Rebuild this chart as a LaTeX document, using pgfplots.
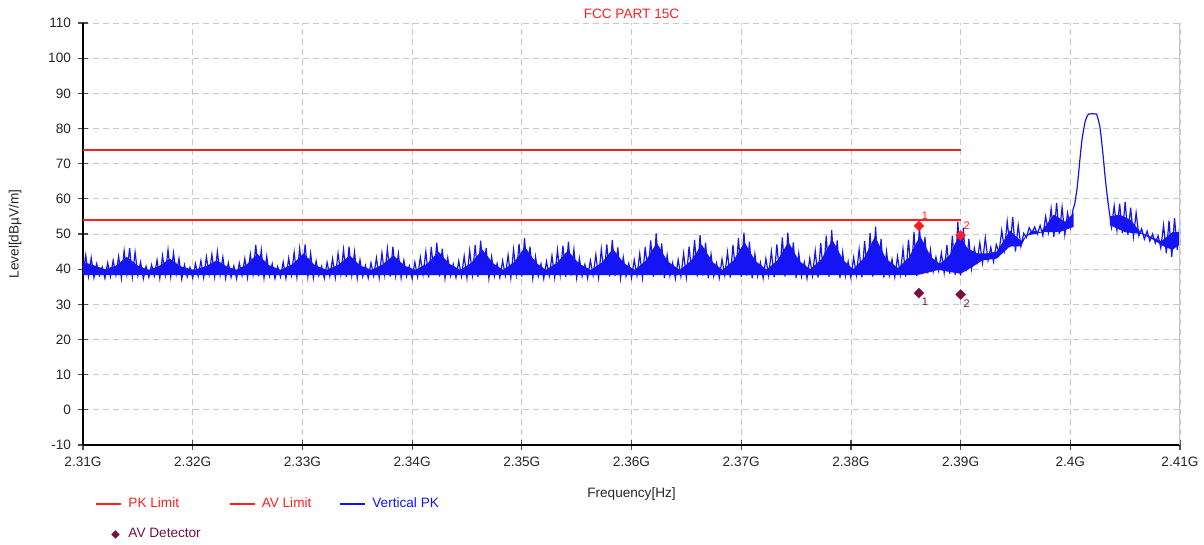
\documentclass[border=0pt]{standalone}
\usepackage{pgfplots}
\pgfplotsset{compat=1.18}
\usepackage{fontspec}
\setmainfont{Liberation Sans}

\definecolor{limred}{RGB}{255,30,30}
\definecolor{trace}{RGB}{20,20,245}
\definecolor{avdet}{RGB}{122,16,66}
\definecolor{gridgray}{RGB}{200,200,200}
\newcommand{\chartfont}{\fontsize{6.8}{8}\selectfont}

\begin{document}
\begin{tikzpicture}
\begin{axis}[
    name=ax,
    scale only axis,
    width=548.5pt, height=211pt,
    xmin=2310, xmax=2410,
    ymin=-10, ymax=110,
    xtick={2310,2320,2330,2340,2350,2360,2370,2380,2390,2400,2410},
    xticklabels={2.31G,2.32G,2.33G,2.34G,2.35G,2.36G,2.37G,2.38G,2.39G,2.4G,2.41G},
    ytick={-10,0,10,20,30,40,50,60,70,80,90,100,110},
    /pgf/number format/assume math mode=true,
    grid=major,
    grid style={densely dashed, gridgray, line width=0.4pt},
    axis x line*=bottom, axis y line*=left,
    axis line style={-, black, line width=0.6pt},
    tick align=center, major tick length=5pt,
    tick style={black!70, line width=0.6pt},
    ticklabel style={font=\chartfont, text=black!85},
    xlabel={Frequency[Hz]},
    ylabel={Level[dBµV/m]},
    label style={font=\chartfont, text=black!85},
    xlabel style={yshift=-3.5pt},
    ylabel style={yshift=6.5pt},
    title={FCC PART 15C},
    title style={font=\chartfont, text=limred, anchor=center, yshift=-1.5pt, inner sep=0pt},
    legend columns=3,
    legend cell align=left,
    legend style={at={(rel axis cs:0.011,0)}, anchor=north west, yshift=-24pt,
        draw=none, fill=none, font=\chartfont, inner sep=0pt, row sep=5pt,
        /tikz/every odd column/.append style={column sep=1pt},
        /tikz/every even column/.append style={column sep=12pt}},
    legend image code/.code={\draw[#1, mark=none, line width=1pt] (0pt,0pt) -- (12.5pt,0pt);},
]

\addplot[limred, line width=1pt] coordinates {(2310,74) (2390,74)};
\addlegendentry{\textcolor{limred}{PK Limit}}

\addplot[limred, line width=1pt] coordinates {(2310,54) (2390,54)};
\addlegendentry{\textcolor{limred}{AV Limit}}

% solid core of the noise band
\addplot[fill=trace, draw=none, forget plot] coordinates {
(2310,42.0) (2310.6,41.5) (2312.0,40.0) (2313.0,41.0) (2314.0,43.5) (2315.0,41.0) (2316.0,39.8) (2317.0,41.0) (2317.9,43.0) (2318.9,40.8)
(2320.1,39.8) (2321.2,40.8) (2322.2,42.5) (2323.2,40.6) (2324.0,39.8) (2324.9,41.3) (2325.9,44.4) (2326.9,41.2) (2328.0,39.8) (2329.1,41.4)
(2330.1,44.5) (2331.1,41.2) (2332.2,39.8) (2333.3,41.3) (2334.3,43.9) (2335.3,41.0) (2336.3,39.8) (2337.3,41.3) (2338.3,43.9) (2339.3,41.0)
(2340.3,39.8) (2341.4,41.6) (2342.4,45.0) (2343.4,41.5) (2344.4,39.8) (2345.4,41.8) (2346.4,45.6) (2347.4,41.6) (2348.3,39.8) (2349.3,42.0)
(2350.3,46.3) (2351.3,41.8) (2352.2,39.8) (2353.2,41.8) (2354.2,45.3) (2355.2,41.6) (2356.3,39.8) (2357.3,41.9) (2358.3,45.8) (2359.3,41.7)
(2360.3,39.8) (2361.3,42.4) (2362.3,47.5) (2363.3,42.2) (2364.4,39.8) (2365.4,42.3) (2366.4,47.0) (2367.4,42.0) (2368.3,39.8) (2369.3,42.5)
(2370.3,47.7) (2371.3,42.3) (2372.3,39.9) (2373.3,42.5) (2374.3,47.7) (2375.3,42.3) (2376.3,40.0) (2377.3,42.8) (2378.3,48.4) (2379.3,42.6)
(2380.2,40.0) (2381.2,43.2) (2382.2,49.3) (2383.2,43.0) (2384.3,40.3) (2385.3,43.4) (2386.3,49.5) (2387.3,43.5) (2388.1,41.5) (2389.0,44.0)
(2389.9,50.0) (2390.6,46.0) (2391.5,44.5) (2392.5,44.5) (2393.3,45.0) (2394.5,51.0) (2395.5,48.0) (2396.5,51.0) (2397.3,50.5) (2398.5,55.5)
(2399.5,53.5) (2400.3,56.0)
(2400.3,52.0) (2399.0,50.5) (2397.5,50.5) (2396.0,49.5) (2395.5,46.5) (2394.5,46.5) (2393.3,43.0) (2392.0,42.5) (2391.0,40.5) (2390.0,38.7)
(2389.0,39.2) (2388.0,39.8) (2387.0,39.0) (2386.0,38.3) (2310,38.3)
} -- cycle;
\addplot[fill=trace, draw=none, forget plot] coordinates {
(2403.6,55.0) (2404.5,55.5) (2405.5,54.0) (2406.4,50.5) (2407.5,49.0) (2408.3,48.0) (2409.3,50.5) (2410,50.5)
(2410,47.0) (2409.3,45.5) (2408.5,46.5) (2407.5,48.5) (2406.5,50.0) (2405.0,50.5) (2403.6,52.5)
} -- cycle;

\addplot[trace, line width=0.6pt] coordinates {
(2310.00,38.5) (2310.25,44.0) (2310.50,38.0) (2310.75,43.2) (2311.00,37.6) (2311.25,41.5) (2311.50,38.2) (2311.75,40.6) (2312.00,37.4) (2312.25,41.8)
(2312.50,37.9) (2312.75,42.5) (2313.00,38.3) (2313.25,43.6) (2313.50,37.5) (2313.75,45.2) (2314.00,38.6) (2314.25,46.0) (2314.50,37.8) (2314.75,44.8)
(2315.00,38.2) (2315.25,42.0) (2315.50,37.3) (2315.75,40.8) (2316.00,37.7) (2316.25,41.2)
(2316.50,38.1) (2316.75,42.6) (2317.00,37.4) (2317.25,43.8) (2317.50,38.4) (2317.75,45.5) (2318.00,37.9) (2318.25,44.6) (2318.50,38.6) (2318.75,43.0)
(2319.00,37.2) (2319.25,41.2) (2319.50,37.8) (2319.75,40.5) (2320.00,37.5) (2320.25,41.6)
(2320.50,38.0) (2320.75,42.4) (2321.00,37.6) (2321.25,43.5) (2321.50,38.5) (2321.75,44.2) (2322.00,37.9) (2322.25,45.0) (2322.50,38.3) (2322.75,43.4)
(2323.00,37.4) (2323.25,41.8) (2323.50,37.7) (2323.75,40.9) (2324.00,37.3) (2324.25,41.7)
(2324.50,38.2) (2324.75,43.0) (2325.00,37.6) (2325.25,44.3) (2325.50,38.6) (2325.75,46.9) (2326.00,38.0) (2326.25,45.4) (2326.50,37.5) (2326.75,43.6)
(2327.00,38.1) (2327.25,41.5) (2327.50,37.3) (2327.75,40.7) (2328.00,37.8) (2328.25,42.0)
(2328.50,37.4) (2328.75,43.1) (2329.00,38.4) (2329.25,44.8) (2329.50,37.7) (2329.75,45.9) (2330.00,38.6) (2330.25,47.0) (2330.50,37.9) (2330.75,44.5)
(2331.00,37.5) (2331.25,42.3) (2331.50,38.2) (2331.75,40.8) (2332.00,37.4) (2332.25,41.9)
(2332.50,38.0) (2332.75,43.0) (2333.00,37.6) (2333.25,44.5) (2333.50,38.5) (2333.75,45.6) (2334.00,37.8) (2334.25,46.4) (2334.50,38.3) (2334.75,44.9)
(2335.00,37.4) (2335.25,42.6) (2335.50,37.9) (2335.75,41.0) (2336.00,37.5) (2336.25,41.8)
(2336.50,38.1) (2336.75,43.2) (2337.00,37.6) (2337.25,44.6) (2337.50,38.4) (2337.75,45.8) (2338.00,37.9) (2338.25,46.4) (2338.50,38.2) (2338.75,44.4)
(2339.00,37.5) (2339.25,42.5) (2339.50,38.0) (2339.75,40.9) (2340.00,37.3) (2340.25,42.0)
(2340.50,37.8) (2340.75,43.4) (2341.00,38.5) (2341.25,45.0) (2341.50,37.6) (2341.75,46.3) (2342.00,38.3) (2342.25,47.5) (2342.50,37.9) (2342.75,45.8)
(2343.00,37.4) (2343.25,43.2) (2343.50,38.1) (2343.75,41.4) (2344.00,37.6) (2344.25,42.3)
(2344.50,38.0) (2344.75,43.7) (2345.00,37.5) (2345.25,45.3) (2345.50,38.4) (2345.75,46.8) (2346.00,37.8) (2346.25,48.1) (2346.50,38.5) (2346.75,46.0)
(2347.00,37.4) (2347.25,43.5) (2347.50,38.0) (2347.75,41.6) (2348.00,37.6) (2348.25,42.4)
(2348.50,38.2) (2348.75,44.0) (2349.00,37.5) (2349.25,45.6) (2349.50,38.6) (2349.75,47.2) (2350.00,37.9) (2350.25,48.8) (2350.50,38.3) (2350.75,46.4)
(2351.00,37.4) (2351.25,43.6) (2351.50,38.0) (2351.75,41.5) (2352.00,37.3) (2352.25,42.2)
(2352.50,38.1) (2352.75,43.8) (2353.00,37.6) (2353.25,45.5) (2353.50,38.4) (2353.75,46.7) (2354.00,37.8) (2354.25,47.8) (2354.50,38.2) (2354.75,45.6)
(2355.00,37.5) (2355.25,43.1) (2355.50,38.0) (2355.75,41.3) (2356.00,37.4) (2356.25,42.5)
(2356.50,38.3) (2356.75,44.1) (2357.00,37.6) (2357.25,45.7) (2357.50,38.5) (2357.75,47.0) (2358.00,37.9) (2358.25,48.3) (2358.50,38.1) (2358.75,46.2)
(2359.00,37.4) (2359.25,43.4) (2359.50,38.0) (2359.75,41.6) (2360.00,37.5) (2360.25,42.6)
(2360.50,38.2) (2360.75,44.4) (2361.00,37.6) (2361.25,46.3) (2361.50,38.6) (2361.75,48.2) (2362.00,37.8) (2362.25,50.2) (2362.50,38.4) (2362.75,47.3)
(2363.00,37.5) (2363.25,44.0) (2363.50,38.1) (2363.75,41.8) (2364.00,37.3) (2364.25,42.7)
(2364.50,38.0) (2364.75,44.5) (2365.00,37.7) (2365.25,46.4) (2365.50,38.5) (2365.75,48.3) (2366.00,37.9) (2366.25,49.7) (2366.50,38.2) (2366.75,47.5)
(2367.00,37.4) (2367.25,44.2) (2367.50,38.0) (2367.75,41.7) (2368.00,37.5) (2368.25,42.8)
(2368.50,38.3) (2368.75,44.8) (2369.00,37.6) (2369.25,46.9) (2369.50,38.6) (2369.75,48.8) (2370.00,37.8) (2370.25,50.4) (2370.50,38.2) (2370.75,47.8)
(2371.00,37.4) (2371.25,44.3) (2371.50,38.1) (2371.75,41.9) (2372.00,37.5) (2372.25,43.0)
(2372.50,38.2) (2372.75,45.0) (2373.00,37.7) (2373.25,47.0) (2373.50,38.5) (2373.75,49.0) (2374.00,37.9) (2374.25,50.4) (2374.50,38.3) (2374.75,47.6)
(2375.00,37.5) (2375.25,44.5) (2375.50,38.0) (2375.75,42.0) (2376.00,37.4) (2376.25,43.1)
(2376.50,38.2) (2376.75,45.2) (2377.00,37.6) (2377.25,47.4) (2377.50,38.6) (2377.75,49.5) (2378.00,37.8) (2378.25,51.1) (2378.50,38.3) (2378.75,48.2)
(2379.00,37.5) (2379.25,44.8) (2379.50,38.1) (2379.75,42.2) (2380.00,37.6) (2380.25,43.3)
(2380.50,38.4) (2380.75,45.6) (2381.00,37.7) (2381.25,48.0) (2381.50,38.6) (2381.75,50.3) (2382.00,37.9) (2382.25,52.1) (2382.50,38.4) (2382.75,48.6)
(2383.00,37.6) (2383.25,45.0) (2383.50,38.3) (2383.75,42.8) (2384.00,37.8) (2384.25,43.6)
(2384.50,38.5) (2384.75,45.8) (2385.00,37.9) (2385.25,48.4) (2385.50,38.7) (2385.75,50.6) (2386.00,38.0) (2386.25,52.3) (2386.50,38.6) (2386.75,49.2)
(2387.00,38.8) (2387.25,45.5) (2387.50,39.3) (2387.75,43.4) (2388.00,39.6) (2388.25,44.6)
(2388.50,39.0) (2388.75,46.8) (2389.00,38.7) (2389.25,49.5) (2389.50,38.4) (2389.75,53.5) (2390.00,38.2) (2390.25,51.8) (2390.50,39.4) (2390.75,48.6)
(2391.00,40.2) (2391.25,46.0) (2391.50,42.0) (2391.75,47.5) (2392.00,41.8) (2392.25,48.9) (2392.50,42.5) (2392.75,46.2) (2393.00,42.2) (2393.25,47.0)
(2393.50,44.8) (2393.75,51.0) (2394.00,45.5) (2394.25,53.6) (2394.50,46.2) (2394.75,54.8) (2395.00,45.0) (2395.25,52.5) (2395.50,46.5) (2395.75,50.2)
(2396.00,49.0) (2396.25,51.8) (2396.50,50.3) (2396.75,52.0) (2397.00,50.0) (2397.25,52.4) (2397.50,49.5) (2397.75,55.0) (2398.00,50.5) (2398.25,57.2)
(2398.50,49.2) (2398.75,58.8) (2399.00,50.0) (2399.25,57.6) (2399.50,49.8) (2399.75,56.0) (2400.00,52.0) (2400.25,57.0)
(2400.40,58.5) (2400.60,62.5) (2400.75,67.0) (2400.90,72.0) (2401.05,76.5) (2401.20,79.5) (2401.35,82.0) (2401.50,83.3) (2401.65,84.1) (2402.00,84.2)
(2402.40,84.1) (2402.55,82.5) (2402.70,80.5) (2402.85,76.5) (2403.00,72.0) (2403.15,67.0) (2403.30,62.5) (2403.50,57.5)
(2403.75,52.0) (2404.00,58.0) (2404.25,51.0) (2404.50,58.6) (2404.75,50.2) (2405.00,59.1) (2405.25,49.8) (2405.50,57.5) (2405.75,49.2) (2406.00,56.0)
(2406.25,49.5) (2406.50,51.5) (2406.75,48.5) (2407.00,50.8) (2407.25,48.0) (2407.50,50.0) (2407.75,47.4) (2408.00,49.5) (2408.25,46.0) (2408.50,52.5)
(2408.75,44.5) (2409.00,53.8) (2409.25,43.5) (2409.50,54.5) (2409.75,45.5) (2410.00,53.0)
};
\addlegendentry{\textcolor{trace}{Vertical PK}}

\addplot[only marks, mark=square*, mark options={rotate=45}, mark size=1.65pt, color=avdet,
    nodes near coords, point meta=explicit symbolic,
    nodes near coords style={font=\fontsize{5.5}{6}\selectfont, text=avdet, anchor=center, xshift=3pt, yshift=-4.5pt},
    legend image code/.code={\fill[avdet] (9.5pt,1.8pt) -- (11.3pt,0pt) -- (9.5pt,-1.8pt) -- (7.7pt,0pt) -- cycle;}]
    coordinates {(2386.2,33.2) [1] (2390.0,32.8) [2]};
\addlegendentry{\textcolor{avdet}{AV Detector}}

\addplot[only marks, mark=square*, mark options={rotate=45}, mark size=1.65pt, color=limred, forget plot,
    nodes near coords, point meta=explicit symbolic,
    nodes near coords style={font=\fontsize{5.5}{6}\selectfont, text=limred, anchor=center, xshift=3pt, yshift=5pt}]
    coordinates {(2386.2,52.3) [1] (2390.0,49.6) [2]};

\draw[gridgray, line width=0.6pt] (rel axis cs:1,0) -- (rel axis cs:1,1);
\end{axis}
\pgfresetboundingbox
\path[use as bounding box] ([xshift=-41.5pt,yshift=-50pt]ax.south west) rectangle ([xshift=12pt,yshift=11.5pt]ax.north east);
\end{tikzpicture}
\end{document}
